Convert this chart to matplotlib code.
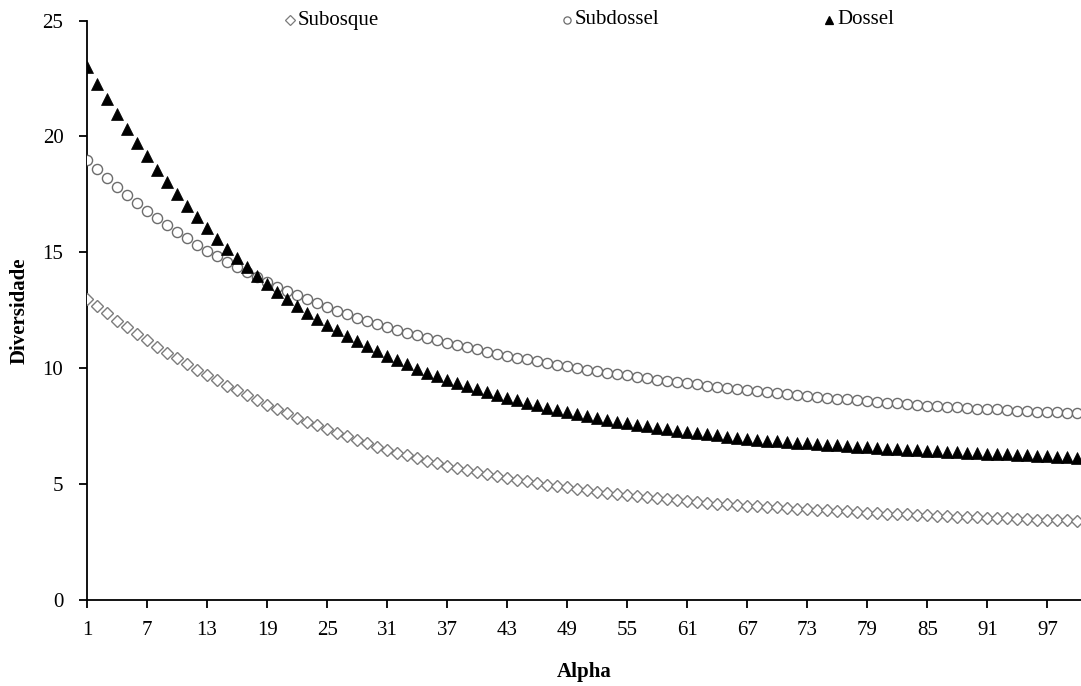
import matplotlib
matplotlib.use("Agg")
import matplotlib.pyplot as plt
from matplotlib.lines import Line2D

alpha = list(range(1, 101))

subosque = [13.0, 12.68, 12.36, 12.05, 11.76, 11.48, 11.2, 10.93, 10.67, 10.42,
            10.17, 9.93, 9.7, 9.47, 9.25, 9.04, 8.83, 8.63, 8.43, 8.24,
            8.05, 7.87, 7.7, 7.53, 7.37, 7.21, 7.06, 6.91, 6.76, 6.62,
            6.49, 6.36, 6.24, 6.12, 6.0, 5.89, 5.79, 5.69, 5.6, 5.51,
            5.42, 5.34, 5.26, 5.19, 5.12, 5.05, 4.98, 4.92, 4.86, 4.8,
            4.74, 4.68, 4.63, 4.58, 4.53, 4.48, 4.43, 4.39, 4.35, 4.31,
            4.27, 4.23, 4.19, 4.16, 4.13, 4.10, 4.07, 4.04, 4.02, 4.0,
            3.97, 3.94, 3.92, 3.89, 3.87, 3.84, 3.82, 3.79, 3.77, 3.75,
            3.73, 3.71, 3.69, 3.67, 3.65, 3.63, 3.61, 3.6, 3.58, 3.56,
            3.55, 3.53, 3.52, 3.5, 3.49, 3.47, 3.46, 3.44, 3.43, 3.42]

subdossel = [19.0, 18.58, 18.19, 17.82, 17.47, 17.13, 16.8, 16.48, 16.18, 15.88,
             15.6, 15.33, 15.07, 14.82, 14.58, 14.35, 14.13, 13.92, 13.72, 13.52,
             13.33, 13.15, 12.97, 12.8, 12.64, 12.48, 12.33, 12.18, 12.04, 11.91,
             11.78, 11.66, 11.54, 11.42, 11.31, 11.2, 11.1, 11.0, 10.9, 10.81,
             10.72, 10.63, 10.54, 10.46, 10.38, 10.3, 10.22, 10.15, 10.08, 10.01,
             9.94, 9.88, 9.81, 9.75, 9.69, 9.63, 9.57, 9.51, 9.46, 9.41,
             9.36, 9.3, 9.25, 9.2, 9.15, 9.1, 9.05, 9.0, 8.96, 8.92,
             8.88, 8.84, 8.8, 8.76, 8.72, 8.68, 8.65, 8.61, 8.58, 8.54,
             8.51, 8.48, 8.45, 8.42, 8.39, 8.36, 8.34, 8.31, 8.29, 8.26,
             8.24, 8.22, 8.19, 8.17, 8.15, 8.13, 8.11, 8.09, 8.07, 8.05]

dossel = [23.0, 22.27, 21.6, 20.95, 20.33, 19.72, 19.14, 18.57, 18.03, 17.5,
          17.0, 16.51, 16.04, 15.59, 15.16, 14.75, 14.36, 13.99, 13.64, 13.3,
          12.98, 12.68, 12.4, 12.13, 11.88, 11.64, 11.4, 11.17, 10.95, 10.74,
          10.54, 10.35, 10.16, 9.98, 9.81, 9.65, 9.5, 9.36, 9.22, 9.09,
          8.96, 8.84, 8.72, 8.61, 8.5, 8.4, 8.3, 8.2, 8.11, 8.02,
          7.94, 7.86, 7.78, 7.7, 7.63, 7.56, 7.49, 7.43, 7.37, 7.31,
          7.25, 7.2, 7.15, 7.1, 7.05, 7.0, 6.96, 6.92, 6.88, 6.85,
          6.82, 6.79, 6.76, 6.73, 6.7, 6.67, 6.64, 6.61, 6.58, 6.55,
          6.53, 6.5, 6.48, 6.46, 6.44, 6.42, 6.4, 6.38, 6.36, 6.34,
          6.32, 6.3, 6.28, 6.26, 6.24, 6.22, 6.2, 6.18, 6.16, 6.14]

series_names = ['Subosque', 'Subdossel', 'Dossel']
xticks = list(range(1, 101, 6))
yticks = [0, 5, 10, 15, 20, 25]

plt.rcParams['font.family'] = ['Liberation Serif', 'DejaVu Serif']

W, H = 1081, 686
fig = plt.figure(figsize=(W / 100, H / 100), dpi=100)
ax = fig.add_axes([87 / W, 1 - 600 / H, 1 - 87 / W, (600 - 20.5) / H])

gray_d = '#7c7c7c'
gray_c = '#6c6c6c'
styles = [dict(marker='D', ms=6.0, mfc='white', mec=gray_d, mew=1.0),
          dict(marker='o', ms=7.3, mfc='white', mec=gray_c, mew=1.0),
          dict(marker='^', ms=8.2, mfc='black', mec='black', mew=0.5)]

for name, vals, st, z in zip(series_names, [subosque, subdossel, dossel],
                             styles, [3, 3, 4]):
    ax.plot(alpha, vals, linestyle='none', label=name, zorder=z, **st)

ax.set_xlim(1, 100.35)
ax.set_ylim(0, 25)
ax.set_xticks(xticks)
ax.set_yticks(yticks)
ax.tick_params(axis='both', direction='out', length=6, width=1.3,
               labelsize=15, colors='black')
ax.tick_params(axis='y', pad=11)
ax.tick_params(axis='x', pad=9)
for s in ['top', 'right']:
    ax.spines[s].set_visible(False)
for s in ['left', 'bottom']:
    ax.spines[s].set_linewidth(1.3)

ax.set_xlabel('Alpha', fontsize=15, fontweight='bold', labelpad=16)
ax.set_ylabel('Diversidade', fontsize=15, fontweight='bold', labelpad=9)

# legend entries along the top (marker + label)
leg_marker_x = [290, 567, 829]
leg_sizes = [4.6, 5.2, 5.6]
leg_y = 1 - 20 / H
for name, st, mx, ms in zip(series_names, styles, leg_marker_x, leg_sizes):
    kw = dict(st)
    kw['ms'] = ms
    kw['mew'] = 0.9
    fig.add_artist(Line2D([mx / W], [leg_y], linestyle='none',
                          transform=fig.transFigure, **kw))
    fig.text((mx + 8) / W, leg_y, name, fontsize=15, va='center', ha='left')

fig.savefig('out.png', dpi=100)
